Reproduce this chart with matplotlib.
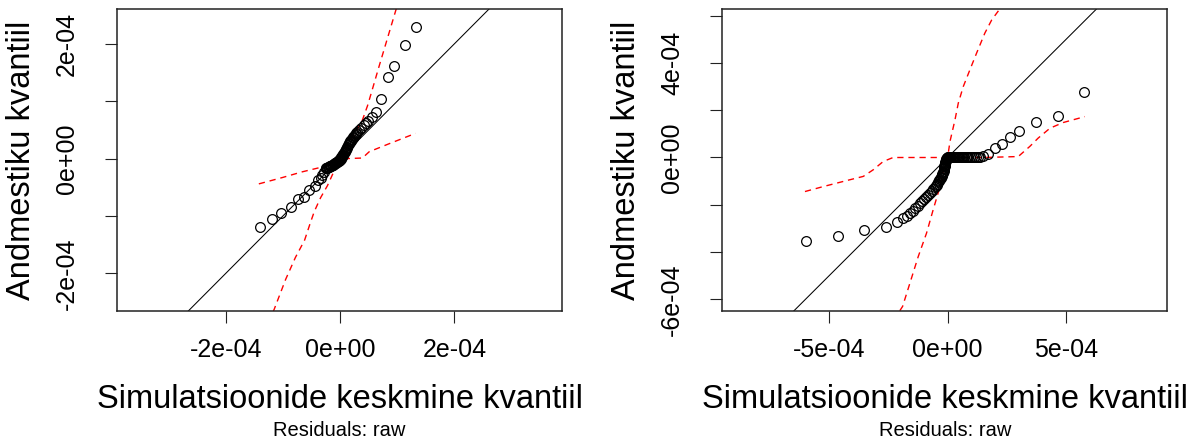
import numpy as np
import matplotlib.pyplot as plt

plt.rcParams['font.family'] = ['Liberation Sans', 'DejaVu Sans']

# values below are in units of 1e-4
SCALE = 1e-4

# --- left panel: observed vs. mean simulated quantiles ---
qq1_x = [-1.40, -1.19, -1.03, -0.86, -0.73, -0.63, -0.54, -0.44, -0.38, -0.34,
         -0.31, -0.28, -0.25, -0.24, -0.23, -0.22, -0.21, -0.20, -0.19, -0.18,
         -0.17, -0.16, -0.15, -0.14, -0.13, -0.12, -0.11, -0.10, -0.09, -0.08,
         -0.07, -0.06, -0.05, -0.04, -0.03, -0.02, -0.01, 0.00, 0.005, 0.01,
         0.02, 0.025, 0.03, 0.04, 0.045, 0.05, 0.06, 0.07, 0.08, 0.09,
         0.10, 0.11, 0.12, 0.13, 0.14, 0.15, 0.16, 0.17, 0.18, 0.19,
         0.20, 0.21, 0.22, 0.23, 0.24, 0.255, 0.27, 0.285, 0.30, 0.33,
         0.37, 0.41, 0.45, 0.49, 0.55, 0.62, 0.71, 0.83, 0.94, 1.13, 1.32]
qq1_y = [-1.19, -1.06, -0.95, -0.84, -0.71, -0.66, -0.54, -0.47, -0.38, -0.33,
         -0.28, -0.23, -0.17, -0.165, -0.16, -0.155, -0.15, -0.145, -0.14, -0.135,
         -0.13, -0.125, -0.12, -0.115, -0.11, -0.105, -0.10, -0.09, -0.08, -0.075,
         -0.07, -0.065, -0.06, -0.05, -0.045, -0.04, -0.03, -0.02, -0.01, 0.00,
         0.01, 0.02, 0.03, 0.045, 0.06, 0.07, 0.085, 0.10, 0.12, 0.135,
         0.15, 0.17, 0.19, 0.21, 0.23, 0.25, 0.27, 0.285, 0.30, 0.315,
         0.33, 0.345, 0.36, 0.375, 0.39, 0.41, 0.43, 0.45, 0.47, 0.50,
         0.54, 0.58, 0.62, 0.66, 0.72, 0.81, 1.04, 1.42, 1.61, 1.97, 2.30]

# simulation envelope (two bands crossing at zero)
env1_steep_x = [-1.40, -1.15, -0.95, -0.78, -0.62, -0.52, -0.45, -0.34, -0.22, -0.12,
                0.00, 0.08, 0.16, 0.28, 0.39, 0.48, 0.56, 0.68, 0.80, 0.98, 1.32]
env1_steep_y = [-3.20, -2.62, -2.10, -1.72, -1.42, -1.12, -0.92, -0.68, -0.47, -0.25,
                0.00, 0.12, 0.27, 0.47, 0.67, 0.92, 1.19, 1.60, 2.00, 2.60, 3.40]
env1_flat_x = [-1.42, -1.01, -0.66, -0.37, -0.13, 0.00, 0.10, 0.39, 0.51, 0.86, 1.32]
env1_flat_y = [-0.44, -0.33, -0.23, -0.16, -0.06, 0.00, 0.00, 0.01, 0.12, 0.26, 0.44]

# --- right panel ---
qq2_x = [-5.99, -4.64, -3.52, -2.60, -2.14, -1.87, -1.72, -1.59, -1.48, -1.38,
         -1.27, -1.17, -1.08, -0.99, -0.90, -0.82, -0.75, -0.68, -0.61, -0.54,
         -0.50, -0.46, -0.43, -0.40, -0.37, -0.35, -0.32, -0.30, -0.27, -0.25,
         -0.23, -0.22, -0.20, -0.19, -0.17, -0.16, -0.15, -0.14, -0.13, -0.12,
         -0.11, -0.10, -0.09, -0.08, -0.07, -0.06, -0.05, -0.04, -0.03, -0.02,
         -0.01, 0.00, 0.03, 0.06, 0.09, 0.12, 0.15, 0.18, 0.21, 0.24,
         0.27, 0.30, 0.34, 0.38, 0.42, 0.46, 0.50, 0.55, 0.60, 0.65,
         0.70, 0.76, 0.82, 0.88, 0.95, 1.02, 1.10, 1.18, 1.27, 1.36,
         1.50, 1.71, 2.00, 2.30, 2.63, 3.02, 3.75, 4.67, 5.75]
qq2_y = [-3.52, -3.31, -3.07, -2.92, -2.73, -2.56, -2.46, -2.35, -2.25, -2.15,
         -2.04, -1.93, -1.83, -1.74, -1.65, -1.57, -1.51, -1.42, -1.33, -1.24,
         -1.19, -1.15, -1.10, -1.05, -1.00, -0.95, -0.91, -0.87, -0.83, -0.80,
         -0.75, -0.70, -0.65, -0.60, -0.55, -0.49, -0.44, -0.38, -0.34, -0.30,
         -0.26, -0.22, -0.18, -0.15, -0.12, -0.09, -0.06, -0.04, -0.03, -0.02,
         -0.01, 0.00, 0.00, 0.00, 0.00, 0.00, 0.00, 0.00, 0.00, 0.00,
         0.00, 0.00, 0.00, 0.00, 0.00, 0.00, 0.00, 0.00, 0.00, 0.00,
         0.00, 0.00, 0.00, 0.01, 0.01, 0.01, 0.01, 0.01, 0.02, 0.03,
         0.06, 0.16, 0.40, 0.58, 0.85, 1.14, 1.52, 1.76, 2.79]

env2_steep_x = [-6.00, -3.00, -1.90, -1.59, -1.24, -0.89, -0.61, -0.32, -0.14, 0.00,
                0.10, 0.31, 0.45, 0.66, 0.94, 1.22, 1.57, 1.86, 2.14, 3.00, 5.80]
env2_steep_y = [-9.50, -8.00, -6.30, -5.31, -4.19, -3.20, -2.21, -1.23, -0.38, 0.00,
                0.68, 1.59, 2.30, 3.00, 3.71, 4.41, 5.26, 5.82, 6.20, 7.50, 9.50]
env2_flat_x = [-6.02, -5.25, -4.12, -3.56, -3.14, -2.72, -2.30, -1.00, 0.00, 1.50,
               2.98, 3.47, 3.82, 4.32, 4.88, 5.79]
env2_flat_y = [-1.44, -1.23, -0.94, -0.80, -0.52, -0.17, 0.00, 0.00, 0.00, 0.00,
               0.04, 0.47, 0.82, 1.24, 1.48, 1.73]

panels = [
    dict(x=qq1_x, y=qq1_y, env=[(env1_steep_x, env1_steep_y), (env1_flat_x, env1_flat_y)],
         xlim=(-3.9, 3.88), ylim=(-2.66, 2.60),
         xticks=[-2, 0, 2], xlabels=['-2e-04', '0e+00', '2e-04'],
         yticks=[-2, -1, 0, 1, 2], ylabels=['-2e-04', '', '0e+00', '', '2e-04'],
         left=0.0978),
    dict(x=qq2_x, y=qq2_y, env=[(env2_steep_x, env2_steep_y), (env2_flat_x, env2_flat_y)],
         xlim=(-9.51, 9.27), ylim=(-6.51, 6.27),
         xticks=[-5, 0, 5], xlabels=['-5e-04', '0e+00', '5e-04'],
         yticks=[-6, -4, -2, 0, 2, 4, 6],
         ylabels=['-6e-04', '', '', '0e+00', '', '4e-04', ''],
         left=0.6039),
]

fig = plt.figure(figsize=(11.96, 4.42), dpi=100)

for p in panels:
    ax = fig.add_axes([p['left'], 0.2955, 0.3721, 0.6835])
    s = SCALE
    # 1:1 reference line
    lo, hi = -20 * s, 20 * s
    ax.plot([lo, hi], [lo, hi], color='black', lw=0.75)
    for ex, ey in p['env']:
        ax.plot(np.array(ex) * s, np.array(ey) * s, color='red', lw=1.0,
                dashes=(4.5, 3.5))
    ax.plot(np.array(p['x']) * s, np.array(p['y']) * s, linestyle='none',
            marker='o', ms=7, mfc='none', mec='black', mew=0.9)

    ax.set_xlim(p['xlim'][0] * s, p['xlim'][1] * s)
    ax.set_ylim(p['ylim'][0] * s, p['ylim'][1] * s)
    ax.set_xticks(np.array(p['xticks']) * s)
    ax.set_xticklabels(p['xlabels'])
    ax.set_yticks(np.array(p['yticks']) * s)
    ax.set_yticklabels(p['ylabels'], rotation=90, va='center')
    ax.tick_params(axis='both', direction='out', length=8.5, width=0.8,
                   labelsize=18, color='#222222')
    ax.tick_params(axis='x', pad=11)
    ax.tick_params(axis='y', pad=19)
    for sp in ax.spines.values():
        sp.set_linewidth(1.1)
        sp.set_color('#222222')

    ax.text(0.5, -0.29, 'Simulatsioonide keskmine kvantiil', transform=ax.transAxes,
            ha='center', va='center', fontsize=23.5)
    ax.text(0.5, -0.395, 'Residuals: raw', transform=ax.transAxes,
            ha='center', va='center', fontsize=14.5)
    ax.text(-0.215, 0.5, 'Andmestiku kvantiil', transform=ax.transAxes,
            ha='center', va='center', rotation=90, fontsize=23.5)

fig.savefig('out.png', dpi=100)
